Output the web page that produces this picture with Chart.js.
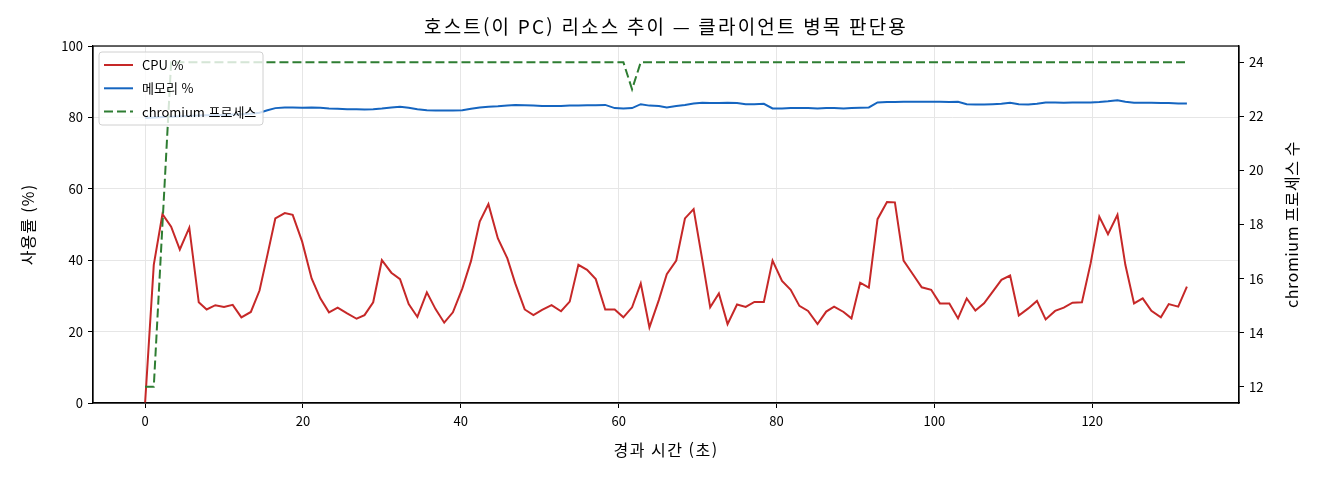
<!DOCTYPE html>
<html lang="ko">
<head>
<meta charset="utf-8">
<title>호스트(이 PC) 리소스 추이</title>
<script src="https://cdn.jsdelivr.net/npm/chart.js@4.4.1/dist/chart.umd.min.js"></script>
<style>
    html, body { margin: 0; padding: 0; background: #fff; }
    #wrap { width: 1320px; height: 480px; }
</style>
</head>
<body>
<div id="wrap"><canvas id="hostChart"></canvas></div>
<script>
// 샘플 시각 (초) — 약 1.1초 간격
const elapsedSec = [
    0, 1.1, 2.2, 3.3, 4.4, 5.6, 6.8, 7.8, 8.9, 10.0,
    11.1, 12.2, 13.4, 14.5, 15.5, 16.5, 17.7, 18.7, 19.9, 21.1,
    22.2, 23.3, 24.4, 25.6, 26.8, 27.8, 28.9, 30.0, 31.2, 32.3,
    33.4, 34.5, 35.7, 36.8, 37.9, 39.0, 40.2, 41.3, 42.4, 43.5,
    44.7, 45.9, 46.9, 48.1, 49.2, 50.3, 51.5, 52.7, 53.8, 54.9,
    56.0, 57.1, 58.3, 59.5, 60.6, 61.7, 62.8, 63.9, 65.1, 66.1,
    67.3, 68.4, 69.5, 70.6, 71.6, 72.7, 73.8, 75.0, 76.1, 77.2,
    78.4, 79.5, 80.7, 81.8, 82.9, 84.0, 85.2, 86.3, 87.3, 88.5,
    89.5, 90.6, 91.7, 92.8, 94.0, 95.0, 96.1, 97.3, 98.4, 99.6,
    100.7, 101.9, 103.0, 104.1, 105.2, 106.3, 107.4, 108.5, 109.6, 110.7,
    111.9, 113.0, 114.1, 115.3, 116.4, 117.5, 118.7, 119.8, 120.9, 122.0,
    123.2, 124.2, 125.3, 126.4, 127.5, 128.7, 129.7, 130.9, 132.0,
];

const cpuPct = [
    0, 38.7, 52.9, 49.4, 43.0, 49.1, 28.2, 26.2, 27.4, 26.9,
    27.5, 24.0, 25.5, 31.5, 41.5, 51.7, 53.2, 52.7, 45.2, 34.9,
    29.3, 25.4, 26.7, 25.1, 23.6, 24.6, 28.2, 40.0, 36.5, 34.7,
    27.7, 24.1, 31.0, 26.3, 22.5, 25.4, 32.1, 39.8, 50.8, 55.7,
    46.1, 40.5, 33.5, 26.2, 24.6, 26.1, 27.4, 25.7, 28.4, 38.7,
    37.3, 34.7, 26.2, 26.2, 24.0, 26.8, 33.5, 21.2, 28.9, 36.1,
    39.9, 51.7, 54.3, 40.1, 26.8, 30.7, 22.1, 27.6, 26.9, 28.3,
    28.3, 39.9, 34.2, 31.7, 27.2, 25.8, 22.1, 25.6, 27.0, 25.5,
    23.7, 33.7, 32.3, 51.5, 56.3, 56.2, 39.9, 36.0, 32.4, 31.7,
    27.9, 27.9, 23.7, 29.3, 25.9, 27.9, 31.2, 34.5, 35.7, 24.5,
    26.5, 28.6, 23.4, 25.8, 26.7, 28.1, 28.2, 39.1, 52.2, 47.3,
    52.7, 38.7, 27.9, 29.3, 25.8, 24.0, 27.7, 27.0, 32.6,
];

const memPct = [
    79.8, 80.0, 80.1, 80.2, 80.3, 80.4, 80.5, 80.6, 80.6, 80.7,
    80.8, 80.9, 81.0, 81.3, 82.0, 82.6, 82.8, 82.8, 82.7, 82.8,
    82.7, 82.5, 82.4, 82.3, 82.3, 82.2, 82.3, 82.5, 82.8, 83.0,
    82.7, 82.3, 82.0, 81.9, 81.9, 81.9, 82.0, 82.4, 82.8, 83.0,
    83.1, 83.3, 83.5, 83.4, 83.3, 83.2, 83.2, 83.2, 83.3, 83.3,
    83.4, 83.4, 83.5, 82.6, 82.5, 82.6, 83.7, 83.3, 83.2, 82.8,
    83.2, 83.5, 83.9, 84.1, 84.0, 84.0, 84.1, 84.0, 83.7, 83.7,
    83.8, 82.5, 82.5, 82.6, 82.6, 82.6, 82.5, 82.6, 82.6, 82.5,
    82.6, 82.7, 82.8, 84.2, 84.3, 84.3, 84.4, 84.4, 84.4, 84.4,
    84.4, 84.3, 84.4, 83.7, 83.6, 83.6, 83.7, 83.8, 84.1, 83.7,
    83.6, 83.8, 84.2, 84.2, 84.1, 84.2, 84.2, 84.2, 84.3, 84.5,
    84.8, 84.4, 84.1, 84.1, 84.1, 84.0, 84.0, 83.9, 83.9,
];

const chromiumProcs = [
    12, 12, 18, 24, 24, 24, 24, 24, 24, 24,
    24, 24, 24, 24, 24, 24, 24, 24, 24, 24,
    24, 24, 24, 24, 24, 24, 24, 24, 24, 24,
    24, 24, 24, 24, 24, 24, 24, 24, 24, 24,
    24, 24, 24, 24, 24, 24, 24, 24, 24, 24,
    24, 24, 24, 24, 24, 23, 24, 24, 24, 24,
    24, 24, 24, 24, 24, 24, 24, 24, 24, 24,
    24, 24, 24, 24, 24, 24, 24, 24, 24, 24,
    24, 24, 24, 24, 24, 24, 24, 24, 24, 24,
    24, 24, 24, 24, 24, 24, 24, 24, 24, 24,
    24, 24, 24, 24, 24, 24, 24, 24, 24, 24,
    24, 24, 24, 24, 24, 24, 24, 24, 24,
];

const timeTicks = [0, 20, 40, 60, 80, 100, 120];
const pctTicks = [0, 20, 40, 60, 80, 100];
const procTicks = [12, 14, 16, 18, 20, 22, 24];

const CHART_TITLE = "호스트(이 PC) 리소스 추이 — 클라이언트 병목 판단용";
const X_TITLE = "경과 시간 (초)";
const Y_TITLE = "사용률 (%)";
const Y2_TITLE = "chromium 프로세스 수";

const FONT = '"Noto Sans CJK KR", "Noto Sans", sans-serif';
const GRID = "#e6e6e6";

function points(ys) {
    return elapsedSec.map((t, i) => ({ x: t, y: ys[i] }));
}

function fixedTicks(values) {
    return (axis) => {
        axis.ticks = values.map((v) => ({ value: v }));
    };
}

function drawLabel(ctx, text, x, y, angle, size, spacing) {
    ctx.save();
    ctx.translate(x, y);
    ctx.rotate(angle);
    ctx.font = size + "px " + FONT;
    ctx.letterSpacing = spacing;
    ctx.fillStyle = "#000";
    ctx.textAlign = "center";
    ctx.textBaseline = "middle";
    ctx.fillText(text, 0, 0);
    ctx.restore();
}

/** Cadre noir autour de la zone de tracé + titres (graphique et axes) */
const axesFrame = {
    id: "axesFrame",
    afterDraw(chart) {
        const { ctx, chartArea: a } = chart;
        ctx.save();
        ctx.strokeStyle = "#000";
        ctx.lineWidth = 1.2;
        ctx.strokeRect(a.left, a.top, a.right - a.left, a.bottom - a.top);
        ctx.restore();

        const midX = (a.left + a.right) / 2;
        const midY = (a.top + a.bottom) / 2;
        drawLabel(ctx, CHART_TITLE, midX, 27, 0, 19, "2.2px");
        drawLabel(ctx, X_TITLE, midX, 450, 0, 16, "1.5px");
        drawLabel(ctx, Y_TITLE, 28, midY, -Math.PI / 2, 16, "1.2px");
        drawLabel(ctx, Y2_TITLE, 1292, midY, -Math.PI / 2, 16, "0.6px");
    },
};

/** Légende dessinée dans la zone de tracé, en haut à gauche */
const insideLegend = {
    id: "insideLegend",
    afterDatasetsDraw(chart) {
        const { ctx, chartArea: a } = chart;
        const x = a.left + 6;
        const y = a.top + 6;
        const w = 164;
        const h = 73;
        ctx.save();
        ctx.beginPath();
        ctx.roundRect(x, y, w, h, 3);
        ctx.fillStyle = "rgba(255,255,255,0.8)";
        ctx.fill();
        ctx.strokeStyle = "#d0d0d0";
        ctx.lineWidth = 1;
        ctx.stroke();

        ctx.font = "13px " + FONT;
        ctx.textBaseline = "middle";
        chart.data.datasets.forEach((ds, i) => {
            const rowY = y + 13 + i * 23.3;
            ctx.beginPath();
            ctx.setLineDash(ds.borderDash || []);
            ctx.strokeStyle = ds.borderColor;
            ctx.lineWidth = ds.borderWidth;
            ctx.moveTo(x + 5, rowY);
            ctx.lineTo(x + 34, rowY);
            ctx.stroke();
            ctx.setLineDash([]);
            ctx.fillStyle = "#000";
            ctx.fillText(ds.label, x + 43, rowY);
        });
        ctx.restore();
    },
};

const tickStyle = {
    color: "#000",
    font: { family: FONT, size: 13 },
    padding: 5,
    autoSkip: false,
    maxRotation: 0,
};

new Chart(document.getElementById("hostChart"), {
    type: "line",
    data: {
        datasets: [
            {
                label: "CPU %",
                data: points(cpuPct),
                borderColor: "#c62828",
                borderWidth: 2,
                yAxisID: "y",
                order: 2,
            },
            {
                label: "메모리 %",
                data: points(memPct),
                borderColor: "#1565c0",
                borderWidth: 2,
                yAxisID: "y",
                order: 1,
            },
            {
                label: "chromium 프로세스",
                data: points(chromiumProcs),
                borderColor: "#2e7d32",
                borderWidth: 2,
                borderDash: [9, 4],
                yAxisID: "y2",
                order: 0,
            },
        ],
    },
    options: {
        responsive: true,
        maintainAspectRatio: false,
        animation: false,
        devicePixelRatio: 1,
        elements: {
            point: { radius: 0, hoverRadius: 0 },
            line: { tension: 0, fill: false },
        },
        layout: { padding: { top: 46, left: 0, right: 0, bottom: 0 } },
        plugins: {
            legend: { display: false },
            tooltip: { enabled: false },
            title: { display: false },
        },
        scales: {
            x: {
                type: "linear",
                min: -6.6,
                max: 138.6,
                afterBuildTicks: fixedTicks(timeTicks),
                afterFit: (scale) => { scale.height = 77; },
                ticks: tickStyle,
                grid: { color: GRID, tickColor: "#000", tickLength: 5 },
                border: { color: "#000", width: 1.2 },
            },
            y: {
                position: "left",
                min: 0,
                max: 100,
                afterBuildTicks: fixedTicks(pctTicks),
                afterFit: (scale) => { scale.width = 93; },
                ticks: tickStyle,
                grid: { color: GRID, tickColor: "#000", tickLength: 5 },
                border: { color: "#000", width: 1.2 },
            },
            y2: {
                position: "right",
                min: 11.4,
                max: 24.6,
                afterBuildTicks: fixedTicks(procTicks),
                afterFit: (scale) => { scale.width = 81; },
                ticks: tickStyle,
                grid: { drawOnChartArea: false, tickColor: "#000", tickLength: 5 },
                border: { color: "#000", width: 1.2 },
            },
        },
    },
    plugins: [insideLegend, axesFrame],
});
</script>
</body>
</html>
